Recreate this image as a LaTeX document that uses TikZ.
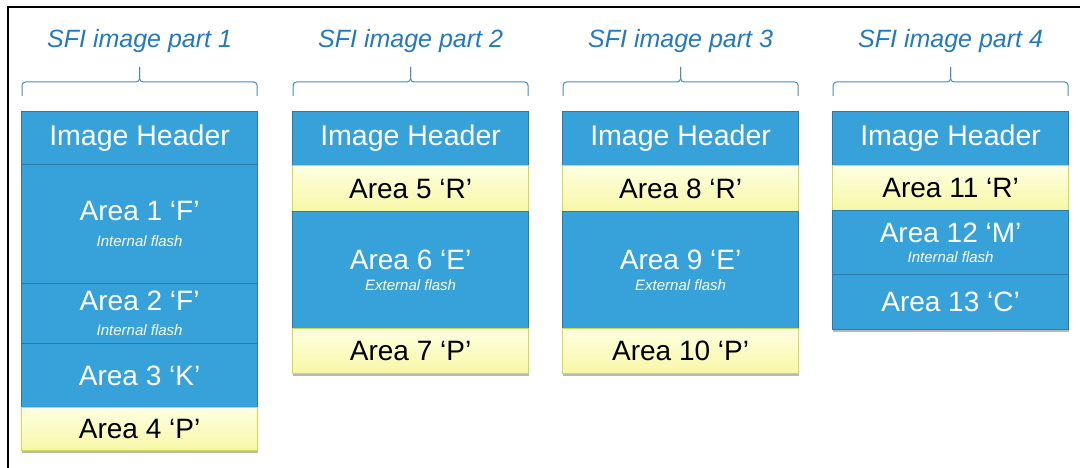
\documentclass[tikz,border=0pt]{standalone}
\usepackage{fontspec}
\setmainfont{Liberation Sans}
\usetikzlibrary{shadows}

\definecolor{areablue}{HTML}{36A2D9}
\definecolor{areaedge}{HTML}{2A7BAA}
\definecolor{yeltop}{HTML}{FFFFE2}
\definecolor{yelbot}{HTML}{F7F7A6}
\definecolor{yeledge}{HTML}{CEDC4C}
\definecolor{partblue}{HTML}{2379BE}

\newcommand\subnote[1]{{\fontsize{15}{16}\selectfont\itshape #1}}

\tikzset{
  area/.style={draw=areaedge, line width=1.2pt, fill=areablue, text=white,
    inner sep=0pt, minimum width=236pt, anchor=north west, align=center,
    font=\fontsize{28}{30}\selectfont,
    drop shadow={shadow xshift=0.6pt, shadow yshift=-2.4pt, opacity=0.28, fill=black}},
  headbox/.style={area, font=\fontsize{28.5}{30}\selectfont},
  yarea/.style={area, draw=yeledge, top color=yeltop, bottom color=yelbot, text=black},
  partbrace/.style={draw=partblue!85, line width=1pt, rounded corners=3.5pt},
  partlabel/.style={text=partblue, anchor=base,
    font=\fontsize{25}{28}\selectfont\itshape}
}

\begin{document}
\begin{tikzpicture}[x=1pt, y=-1pt]
\useasboundingbox (0,0) rectangle (1080,468);
\fill[white] (0,0) rectangle (1080,468);

% outer frame (top and left edges)
\draw[line width=2.4pt, line join=miter] (8,468) -- (8,7) -- (1080,7);

% part 1
\node[headbox, minimum height=53pt] (h1) at (21,111) {Image Header};
\node[area, minimum height=119pt] (a1) at (21,164) {Area 1 ‘F’\\[-4pt]\subnote{Internal flash}};
\node[area, minimum height=60pt] (a2) at (21,283) {Area 2 ‘F’\\[-5pt]\subnote{Internal flash}};
\node[area, minimum height=64pt] (a3) at (21,343) {Area 3 ‘K’};
\node[yarea, minimum height=43pt] (a4) at (21,407) {Area 4 ‘P’};

% part 2
\node[headbox, minimum height=54pt] (h2) at (292,111) {Image Header};
\node[yarea, minimum height=46pt] (a5) at (292,165) {Area 5 ‘R’};
\node[area, minimum height=117pt] (a6) at (292,211) {Area 6 ‘E’\\[-9pt]\subnote{External flash}};
\node[yarea, minimum height=45pt] (a7) at (292,328) {Area 7 ‘P’};

% part 3
\node[headbox, minimum height=54pt] (h3) at (562,111) {Image Header};
\node[yarea, minimum height=46pt] (a8) at (562,165) {Area 8 ‘R’};
\node[area, minimum height=117pt] (a9) at (562,211) {Area 9 ‘E’\\[-9pt]\subnote{External flash}};
\node[yarea, minimum height=45pt] (a10) at (562,328) {Area 10 ‘P’};

% part 4
\node[headbox, minimum height=54pt] (h4) at (832,111) {Image Header};
\node[yarea, minimum height=45pt] (a11) at (832,165) {Area 11 ‘R’};
\node[area, minimum height=64pt] (a12) at (832,210) {Area 12 ‘M’\\[-10pt]\subnote{Internal flash}};
\node[area, minimum height=55pt] (a13) at (832,274) {Area 13 ‘C’};

% braces (two halves meeting in a cusp) and part labels
\foreach \i in {1,2,3,4} {
  \coordinate (bl\i) at ([xshift=1pt, yshift=15pt]h\i.north west);
  \coordinate (br\i) at ([xshift=-1pt, yshift=15pt]h\i.north east);
  \coordinate (bm\i) at ([yshift=29pt]h\i.north);
  \coordinate (bt\i) at ([yshift=44pt]h\i.north);
  \draw[partbrace] (bl\i) |- (bm\i) -- (bt\i);
  \draw[partbrace] (br\i) |- (bm\i) -- (bt\i);
  \node[partlabel] (p\i) at ([yshift=63pt]h\i.north) {SFI image part \i};
}
\end{tikzpicture}
\end{document}
